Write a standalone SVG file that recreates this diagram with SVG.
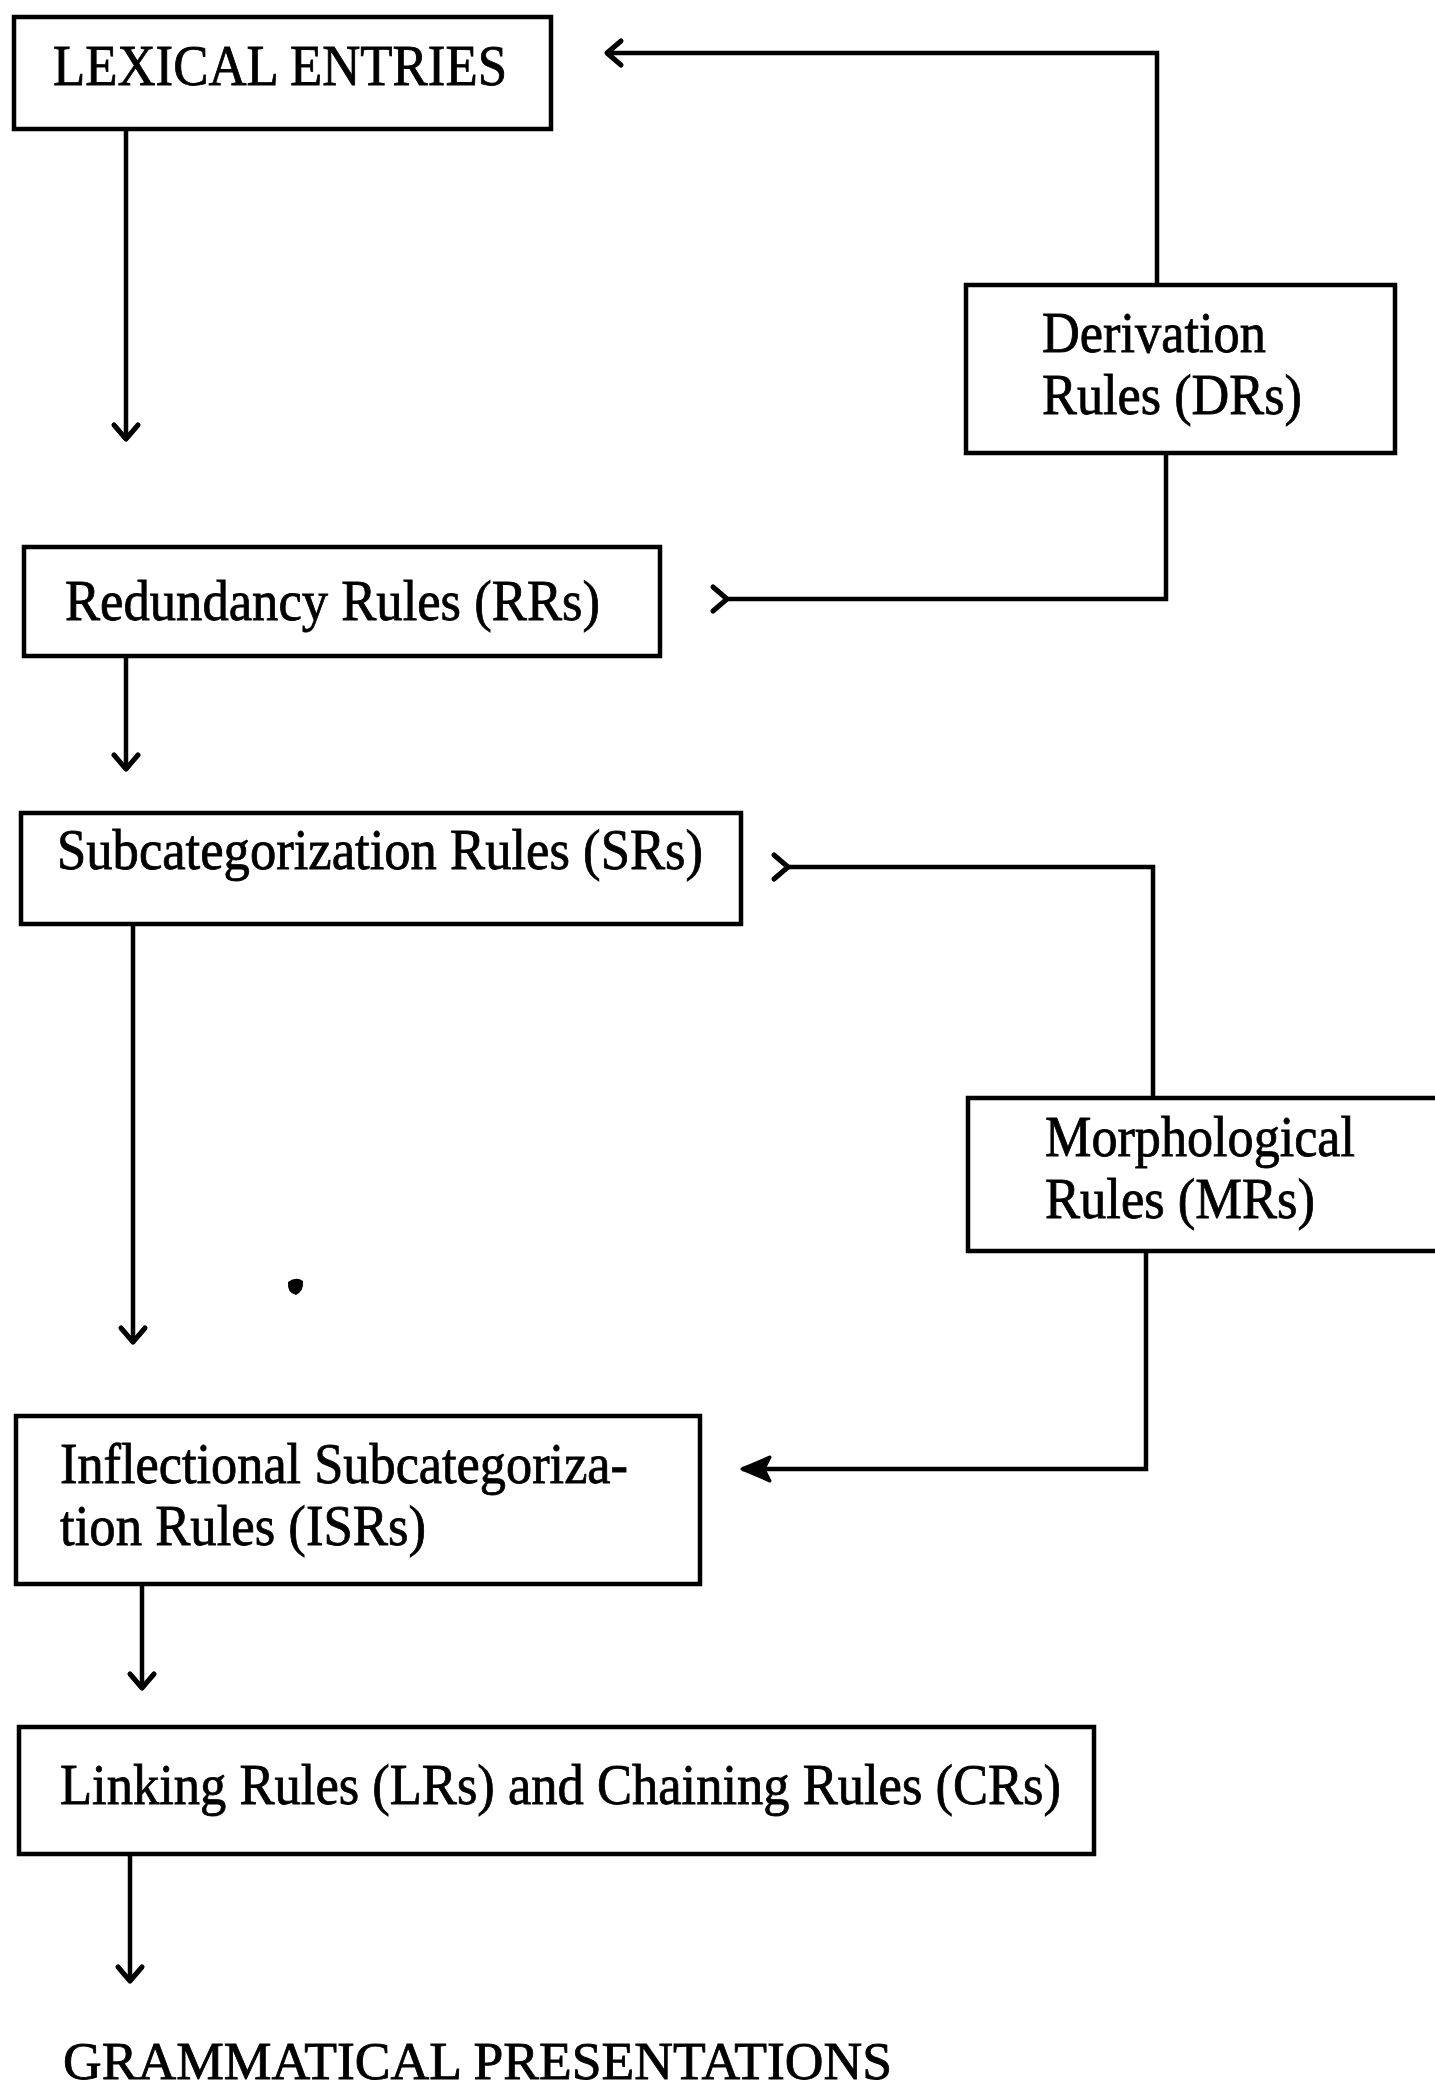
<svg xmlns="http://www.w3.org/2000/svg" width="1435" height="2087" viewBox="0 0 1435 2087">
<style>
.box{fill:#fff;stroke:#000;stroke-width:4.5}
.t{font-family:"Liberation Serif","Times New Roman",serif;font-size:56px;fill:#000;stroke:#000;stroke-width:0.8}
.g{font-size:52px}
.c{fill:none;stroke:#000;stroke-width:4.5;stroke-linejoin:miter}
</style>
<defs>
<marker id="v" markerUnits="userSpaceOnUse" orient="auto" overflow="visible" refX="0" refY="0" markerWidth="30" markerHeight="30">
<path d="M-14,-12 L0,0 L-14,12" fill="none" stroke="#000" stroke-width="5" stroke-linecap="round" stroke-linejoin="round"/>
</marker>
<marker id="f" markerUnits="userSpaceOnUse" orient="auto" overflow="visible" refX="0" refY="0" markerWidth="40" markerHeight="40">
<path d="M0,0 L-28,-12 L-22,0 L-28,12 Z" fill="#000" stroke="#000" stroke-width="3" stroke-linejoin="round"/>
</marker>
</defs>
<rect width="1435" height="2087" fill="#fff"/>
<g id="connectors">
<path class="c" d="M126,129 V439" marker-end="url(#v)"/>
<path class="c" d="M1157,285 V53 H607" marker-end="url(#v)"/>
<path class="c" d="M727,599 H1166 V453" marker-start="url(#v)"/>
<path class="c" d="M126,656 V769" marker-end="url(#v)"/>
<path class="c" d="M788,867 H1153 V1098" marker-start="url(#v)"/>
<path class="c" d="M133,924 V1342" marker-end="url(#v)"/>
<path class="c" d="M1146,1251 V1469 H742" marker-end="url(#f)"/>
<path class="c" d="M142,1584 V1688" marker-end="url(#v)"/>
<path class="c" d="M130,1854 V1981" marker-end="url(#v)"/>
</g>
<g id="lexical">
<rect class="box" x="14" y="17" width="537" height="112"/>
<text class="t" x="53" y="85" textLength="454" lengthAdjust="spacingAndGlyphs">LEXICAL ENTRIES</text>
</g>
<g id="derivation">
<rect class="box" x="966" y="285" width="429" height="168"/>
<text class="t" x="1042" y="352" textLength="224" lengthAdjust="spacingAndGlyphs">Derivation</text>
<text class="t" x="1042" y="414" textLength="260" lengthAdjust="spacingAndGlyphs">Rules (DRs)</text>
</g>
<g id="redundancy">
<rect class="box" x="24" y="547" width="636" height="109"/>
<text class="t" x="65" y="620" textLength="535" lengthAdjust="spacingAndGlyphs">Redundancy Rules (RRs)</text>
</g>
<g id="subcat">
<rect class="box" x="21" y="813" width="720" height="111"/>
<text class="t" x="57" y="869" textLength="646" lengthAdjust="spacingAndGlyphs">Subcategorization Rules (SRs)</text>
</g>
<g id="morph">
<rect class="box" x="968" y="1098" width="480" height="153"/>
<text class="t" x="1045" y="1156" textLength="310" lengthAdjust="spacingAndGlyphs">Morphological</text>
<text class="t" x="1045" y="1218" textLength="270" lengthAdjust="spacingAndGlyphs">Rules (MRs)</text>
</g>
<g id="dot">
<path d="M288,1282 Q296,1276 303,1281 Q304,1291 296,1295 Q287,1293 288,1282 Z" fill="#000"/>
</g>
<g id="isr">
<rect class="box" x="16" y="1416" width="684" height="168"/>
<text class="t" x="60" y="1483" textLength="568" lengthAdjust="spacingAndGlyphs">Inflectional Subcategoriza-</text>
<text class="t" x="60" y="1545" textLength="366" lengthAdjust="spacingAndGlyphs">tion Rules (ISRs)</text>
</g>
<g id="linking">
<rect class="box" x="19" y="1727" width="1075" height="127"/>
<text class="t" x="60" y="1804" textLength="1001" lengthAdjust="spacingAndGlyphs">Linking Rules (LRs) and Chaining Rules (CRs)</text>
</g>
<g id="output">
<text class="t g" x="63" y="2079" textLength="829" lengthAdjust="spacingAndGlyphs">GRAMMATICAL PRESENTATIONS</text>
</g>
</svg>
